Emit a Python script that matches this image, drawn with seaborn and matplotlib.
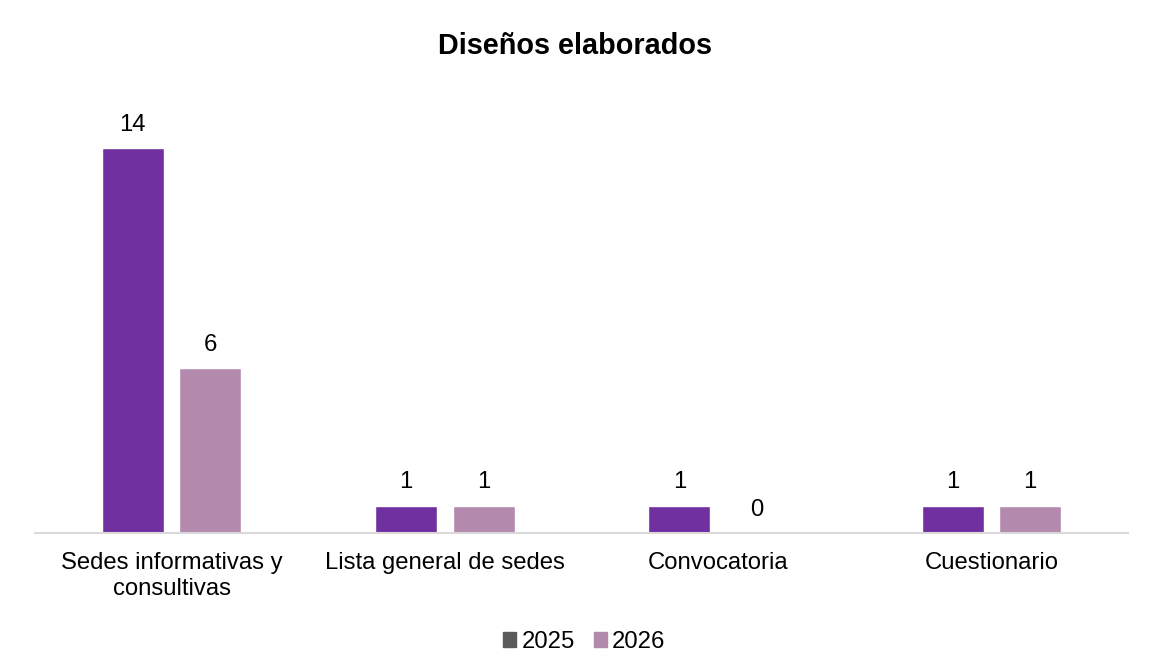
import pandas as pd
import matplotlib.pyplot as plt
import seaborn as sns
from matplotlib.patches import Patch

# === Datos ===
categorias = ["Sedes informativas y\nconsultivas", "Lista general de sedes",
              "Convocatoria", "Cuestionario"]
valores_2025 = [14, 1, 1, 1]
valores_2026 = [6, 1, 0, 1]
anios = ["2025", "2026"]

df = pd.DataFrame({
    "categoria": categorias * 2,
    "anio": [anios[0]] * 4 + [anios[1]] * 4,
    "valor": valores_2025 + valores_2026,
})

colores = {"2025": "#7030A0", "2026": "#B389AD"}

sns.set_style("white")
plt.rcParams["font.family"] = ["Liberation Sans", "DejaVu Sans"]
plt.rcParams["text.color"] = "#000000"

fig = plt.figure(figsize=(11.5, 6.72), dpi=100)
ax = fig.add_axes([0.0304, 0.2068, 0.9504, 0.6548])

sns.barplot(data=df, x="categoria", y="valor", hue="anio", palette=colores,
            width=0.567, gap=0.2, saturation=1, ax=ax, legend=False)

for cont in ax.containers:
    ax.bar_label(cont, fmt="%d", padding=9, fontsize=17.2, color="#000000")

ax.set_ylim(0, 16)
ax.set_xlim(-0.5, 3.5)
ax.set_yticks([])
ax.set_xlabel("")
ax.set_ylabel("")
ax.tick_params(axis="x", length=0, pad=14, labelsize=17.2, colors="#000000")
for lado in ["top", "right", "left"]:
    ax.spines[lado].set_visible(False)
ax.spines["bottom"].set_color("#D9D9D9")
ax.spines["bottom"].set_linewidth(1.5)

fig.text(0.5, 0.932, "Diseños elaborados", ha="center", va="center",
         fontsize=20.8, fontweight="bold", color="#000000")

handles = [Patch(color="#595959", label="2025"), Patch(color="#B389AD", label="2026")]
fig.legend(handles=handles, loc="center", bbox_to_anchor=(0.508, 0.045), ncol=2,
           frameon=False, fontsize=17.2, handlelength=0.55, handleheight=0.55,
           handletextpad=0.2, columnspacing=0.8, labelcolor="#000000")

plt.savefig("out.png", dpi=100)
plt.close()
